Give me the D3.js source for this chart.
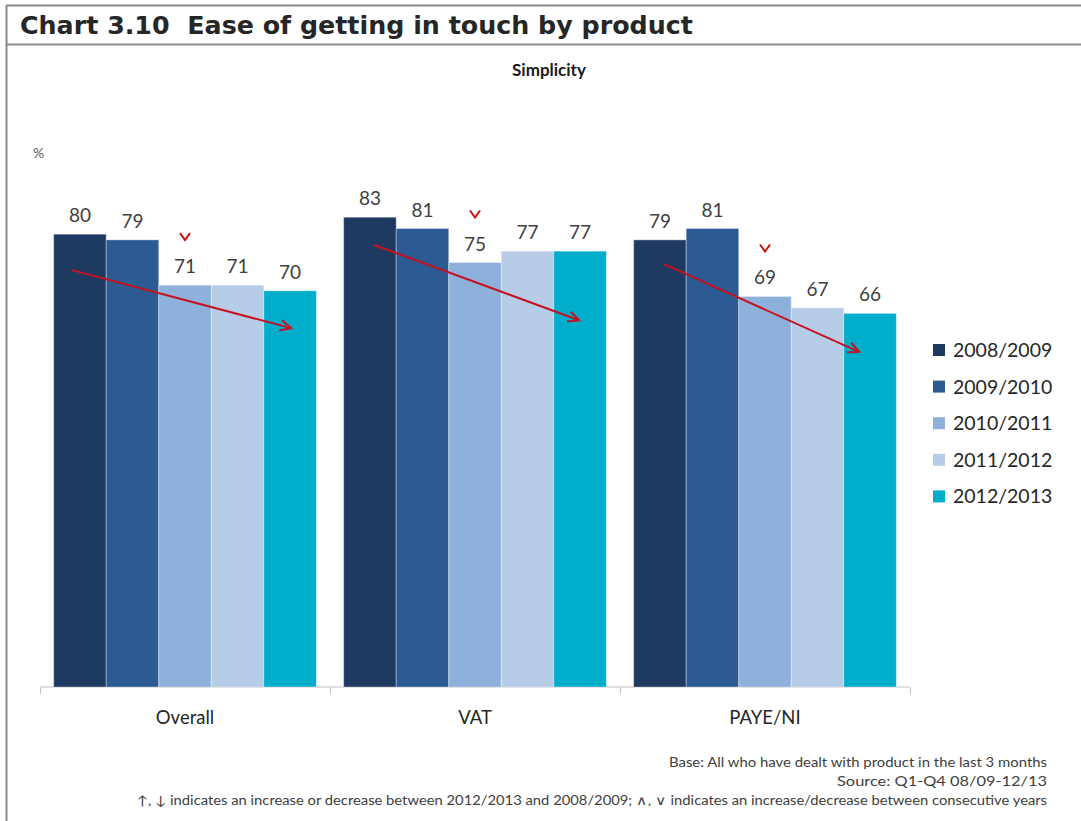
<!DOCTYPE html>
<html><head><meta charset="utf-8">
<script src="https://cdn.jsdelivr.net/npm/d3@7"></script>
<style>body{margin:0;background:#fff}svg{display:block}</style>
</head><body><svg id="c" width="1081" height="821"></svg>
<script>
const categories = ["Overall", "VAT", "PAYE/NI"];
const seriesNames = ["2008/2009", "2009/2010", "2010/2011", "2011/2012", "2012/2013"];
const s2008 = [80, 83, 79];
const s2009 = [79, 81, 81];
const s2010 = [71, 75, 69];
const s2011 = [71, 77, 67];
const s2012 = [70, 77, 66];
const seriesValues = [s2008, s2009, s2010, s2011, s2012];
const colors = ["#1f3a61", "#2c5b93", "#8db1da", "#b6cce7", "#00adca"];
// consecutive-year decrease markers (series index per category)
const decreaseMarks = [[2], [2], [2]];
// trend arrow start/end: value units, and position in series-slot units
const arrowStart = [73.7, 78.1, 74.7];
const arrowEnd = [63.4, 64.8, 59.2];
const arrowStartSlot = [-0.17, 0.08, 0.08];
const arrowEndSlot = [4.02, 3.98, 3.79];
const footnotes = [
  "Base: All who have dealt with product in the last 3 months",
  "Source: Q1-Q4 08/09-12/13",
  "\u2191, \u2193 indicates an increase or decrease between 2012/2013 and 2008/2009; \u2227, \u2228 indicates an increase/decrease between consecutive years"
];

const svg = d3.select("#c");
const font = "Lato, 'Open Sans', sans-serif";
const txt = "#404040";

// frame
svg.append("line").attr("x1",6.5).attr("x2",6.5).attr("y1",5).attr("y2",821).attr("stroke","#8a8a8a").attr("stroke-width",2);
svg.append("line").attr("x1",6).attr("x2",1081).attr("y1",5.5).attr("y2",5.5).attr("stroke","#8a8a8a").attr("stroke-width",2);
svg.append("line").attr("x1",6).attr("x2",1081).attr("y1",44.5).attr("y2",44.5).attr("stroke","#8a8a8a").attr("stroke-width",2);

// title
const title = svg.append("text").attr("x",20).attr("y",34)
  .attr("font-family","'DejaVu Sans', Verdana, sans-serif").attr("font-weight","bold")
  .attr("font-size",24).attr("fill","#262626").style("white-space","pre")
  .text("Chart 3.10\u00a0 Ease of getting in touch by product");
const tw = title.node().getComputedTextLength();
title.attr("font-size", 24 * 673 / tw);

svg.append("text").attr("x",549).attr("y",76).attr("text-anchor","middle")
  .attr("font-family",font).attr("font-weight","bold").attr("font-size",17).attr("fill","#1a1a1a")
  .text("Simplicity");
svg.append("text").attr("x",33).attr("y",158)
  .attr("font-family",font).attr("font-size",14).attr("fill","#595959").text("%");

const x0 = d3.scaleBand().domain(categories).range([40, 910]).paddingInner(0).paddingOuter(0);
const x1 = d3.scaleBand().domain(d3.range(seriesNames.length)).range([0, x0.bandwidth()]).paddingOuter(0.26).paddingInner(0);
const y = d3.scaleLinear().domain([0, 100]).range([687, 121]);

// axis
const axis = d3.axisBottom(x0).tickSize(0).tickFormat("");
const ag = svg.append("g").attr("transform","translate(0,687)").call(axis);
ag.select(".domain").attr("stroke","#bfbfbf").attr("d","M40.5,0H909.5");
const bounds = [40, 330, 620, 910];
ag.selectAll(".sep").data(bounds).join("line").attr("class","sep")
  .attr("x1",d=>d+0.5).attr("x2",d=>d+0.5).attr("y1",0).attr("y2",7).attr("stroke","#bfbfbf");
ag.selectAll(".tick").remove();
svg.selectAll(".cat").data(categories).join("text").attr("class","cat")
  .attr("x",d=>x0(d)+x0.bandwidth()/2).attr("y",724).attr("text-anchor","middle")
  .attr("font-family",font).attr("font-size",18.5).attr("fill","#262626").text(d=>d);

// bars
const groups = svg.selectAll(".grp").data(categories).join("g").attr("class","grp")
  .attr("transform",d=>`translate(${x0(d)},0)`);
groups.selectAll("rect").data((d,ci)=>seriesValues.map((s,si)=>({si, v:s[ci]})))
  .join("rect")
  .attr("x",d=>x1(d.si)).attr("width",x1.bandwidth())
  .attr("y",d=>y(d.v)).attr("height",d=>y(0)-y(d.v))
  .attr("fill",d=>colors[d.si]).attr("stroke","#ffffff").attr("stroke-opacity",0.35).attr("stroke-width",1);
groups.selectAll(".val").data((d,ci)=>seriesValues.map((s,si)=>({si, v:s[ci]})))
  .join("text").attr("class","val")
  .attr("x",d=>x1(d.si)+x1.bandwidth()/2).attr("y",d=>y(d.v)-12).attr("text-anchor","middle")
  .attr("font-family",font).attr("font-size",19).attr("fill",txt).text(d=>d.v);

// decrease markers
groups.each(function(c, ci){
  const g = d3.select(this);
  decreaseMarks[ci].forEach(si=>{
    const cx = x1(si)+x1.bandwidth()/2, top = y(seriesValues[si][ci]) - 52;
    g.append("path").attr("d",`M${cx-5},${top}L${cx},${top+7}L${cx+5},${top}`)
      .attr("fill","none").attr("stroke","#d01010").attr("stroke-width",2);
  });
});

// trend arrows
const red = "#c8101e";
groups.each(function(c, ci){
  const g = d3.select(this);
  const bw = x1.bandwidth(), c0 = x1(0) + bw/2;
  const xs = c0 + arrowStartSlot[ci]*bw, xe = c0 + arrowEndSlot[ci]*bw;
  const ys = y(arrowStart[ci]), ye = y(arrowEnd[ci]);
  g.append("line").attr("x1",xs).attr("y1",ys).attr("x2",xe).attr("y2",ye)
    .attr("stroke",red).attr("stroke-width",2);
  const ang = Math.atan2(ye-ys, xe-xs), L = 12, a = 0.45;
  const p1 = [xe - L*Math.cos(ang-a), ye - L*Math.sin(ang-a)];
  const p2 = [xe - L*Math.cos(ang+a), ye - L*Math.sin(ang+a)];
  g.append("path").attr("d",`M${p1}L${xe},${ye}L${p2}`).attr("fill","none")
    .attr("stroke",red).attr("stroke-width",2);
});

// legend
const lg = svg.selectAll(".lg").data(seriesNames).join("g").attr("class","lg")
  .attr("transform",(d,i)=>`translate(933,${350 + i*36.6})`);
lg.append("rect").attr("x",0).attr("y",-6).attr("width",12).attr("height",12).attr("fill",(d,i)=>colors[i]);
lg.append("text").attr("x",20).attr("y",7).attr("font-family",font).attr("font-size",19.5)
  .attr("fill","#262626").text(d=>d);

// footnotes
const fnW = [378, 210, 910];
svg.selectAll(".fn").data(footnotes).join("text").attr("class","fn")
  .attr("x",1047).attr("y",(d,i)=>767 + i*19).attr("text-anchor","end")
  .attr("font-family",font).attr("font-size",12.5).attr("fill",txt)
  .attr("textLength",(d,i)=>fnW[i]).attr("lengthAdjust","spacingAndGlyphs").text(d=>d);
</script></body></html>
